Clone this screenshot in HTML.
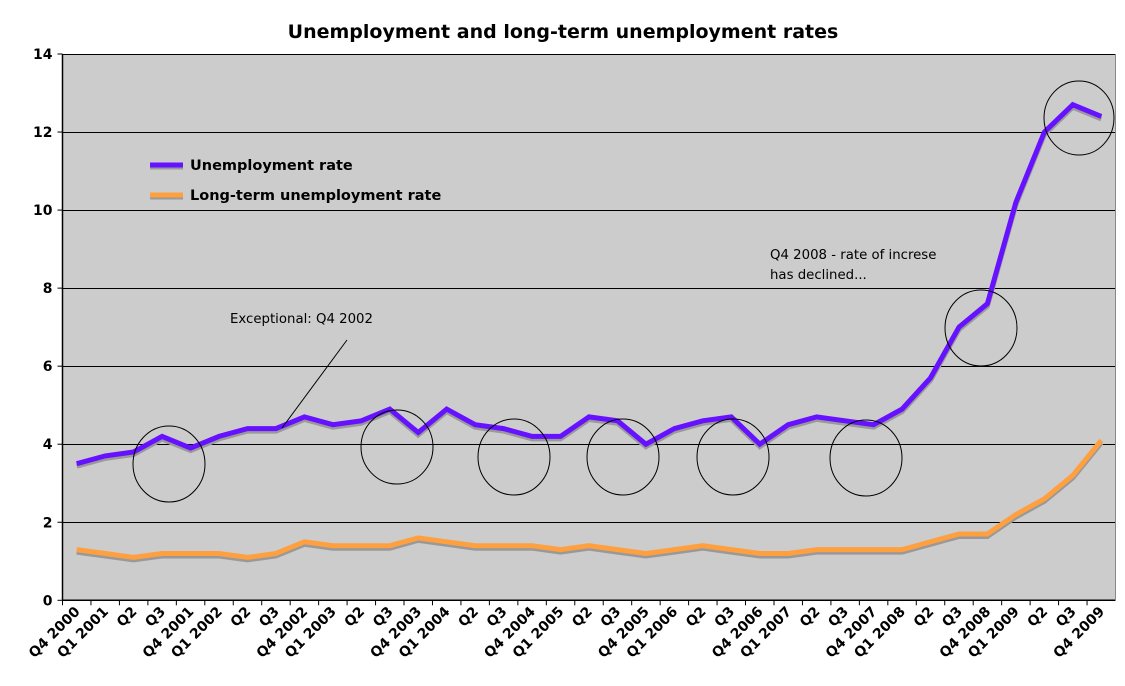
<!DOCTYPE html>
<html><head><meta charset="utf-8"><style>
body{margin:0;background:#fff;}
svg{display:block;font-family:"DejaVu Sans",Verdana,sans-serif;}
</style></head><body>
<svg id="chart" width="1125" height="686">
<text x="563" y="38" text-anchor="middle" font-size="19" font-weight="bold">Unemployment and long-term unemployment rates</text>
<rect x="62.5" y="54" width="1053" height="546.3" fill="#cccccc"/>
<g id="grid"></g>
<g id="xaxis"></g>
<g id="yaxis"></g>
<g id="series"></g>
<g fill="none" stroke="#000" stroke-width="1">
<ellipse cx="169" cy="464" rx="36" ry="38"/>
<ellipse cx="397" cy="447" rx="36" ry="37"/>
<ellipse cx="514" cy="457" rx="36" ry="38"/>
<ellipse cx="623" cy="457" rx="36" ry="38"/>
<ellipse cx="733" cy="457" rx="36" ry="38"/>
<ellipse cx="866" cy="458" rx="36" ry="38"/>
<ellipse cx="981" cy="328" rx="36" ry="38"/>
<ellipse cx="1079" cy="118" rx="35" ry="37"/>
<line x1="347" y1="340" x2="282" y2="428"/>
</g>
<text x="230" y="323" font-size="13.3">Exceptional: Q4 2002</text>
<text x="770" y="259" font-size="13.3">Q4 2008 - rate of increse</text>
<text x="770" y="279" font-size="13.3">has declined...</text>
<g>
<line x1="150" y1="167" x2="183" y2="167" stroke="#999" stroke-width="5"/>
<line x1="150" y1="165" x2="183" y2="165" stroke="#6611ff" stroke-width="5"/>
<text x="190" y="170" font-size="14.5" font-weight="bold">Unemployment rate</text>
<line x1="150" y1="197" x2="183" y2="197" stroke="#999" stroke-width="5"/>
<line x1="150" y1="195" x2="183" y2="195" stroke="#ffa040" stroke-width="5"/>
<text x="190" y="200" font-size="14.5" font-weight="bold">Long-term unemployment rate</text>
</g>
</svg>
<script>
const categories=["Q4 2000","Q1 2001","Q2","Q3","Q4 2001","Q1 2002","Q2","Q3","Q4 2002","Q1 2003","Q2","Q3","Q4 2003","Q1 2004","Q2","Q3","Q4 2004","Q1 2005","Q2","Q3","Q4 2005","Q1 2006","Q2","Q3","Q4 2006","Q1 2007","Q2","Q3","Q4 2007","Q1 2008","Q2","Q3","Q4 2008","Q1 2009","Q2","Q3","Q4 2009"];
const unemployment=[3.5,3.7,3.8,4.2,3.9,4.2,4.4,4.4,4.7,4.5,4.6,4.9,4.3,4.9,4.5,4.4,4.2,4.2,4.7,4.6,4.0,4.4,4.6,4.7,4.0,4.5,4.7,4.6,4.5,4.9,5.7,7.0,7.6,10.2,12.0,12.7,12.4];
const longTerm=[1.3,1.2,1.1,1.2,1.2,1.2,1.1,1.2,1.5,1.4,1.4,1.4,1.6,1.5,1.4,1.4,1.4,1.3,1.4,1.3,1.2,1.3,1.4,1.3,1.2,1.2,1.3,1.3,1.3,1.3,1.5,1.7,1.7,2.2,2.6,3.2,4.1];
const yTicks=[0,2,4,6,8,10,12,14];
const NS='http://www.w3.org/2000/svg';
const L=62.5,R=1115.5,T=54,B=600.3,yMax=14;
const step=(R-L)/categories.length;
const xs=i=>L+step*(i+0.5);
const ys=v=>B-(B-T)*v/yMax;
function mk(tag,attrs,parent){const e=document.createElementNS(NS,tag);for(const k in attrs)e.setAttribute(k,attrs[k]);parent.appendChild(e);return e;}
const grid=document.getElementById('grid'),xa=document.getElementById('xaxis'),ya=document.getElementById('yaxis'),ser=document.getElementById('series');
yTicks.forEach(v=>{
  if(v>0){const g=mk('line',{x1:L,x2:R,y1:Math.round(ys(v))+0.5,y2:Math.round(ys(v))+0.5,stroke:'#000','stroke-width':1},grid);
  
  }
  mk('line',{x1:L-5,x2:L,y1:ys(v),y2:ys(v),stroke:'#000'},ya);
  const t=mk('text',{x:L-10,y:ys(v)+5,'text-anchor':'end','font-size':14,'font-weight':'bold'},ya);
  t.textContent=v;
  
  
});
mk('line',{x1:L,x2:L,y1:T,y2:B,stroke:'#000','stroke-width':1.5},ya);
mk('line',{x1:L,x2:R,y1:B,y2:B,stroke:'#000','stroke-width':1.5},xa);
mk('line',{x1:R,x2:R,y1:T,y2:B,stroke:'#888','stroke-width':1},xa);
categories.forEach((c,i)=>{
  const tx=L+step*i;
  mk('line',{x1:tx,x2:tx,y1:B,y2:B+5,stroke:'#000'},xa);
  const cx=xs(i);
  const t=mk('text',{x:cx+4,y:B+12,'text-anchor':'end','font-size':14,'font-weight':'bold',transform:`rotate(-45 ${cx+4} ${B+12})`},xa);
  t.textContent=c;
  
  
});
function drawSeries(vals,color,name){
  const pts=vals.map((v,i)=>xs(i).toFixed(1)+','+ys(v).toFixed(1)).join(' ');
  const sh=mk('polyline',{points:pts,fill:'none',stroke:'#999','stroke-width':5,transform:'translate(0,2.5)','stroke-linejoin':'miter'},ser);
  
  
  const p=mk('polyline',{points:pts,fill:'none',stroke:color,'stroke-width':5,'stroke-linejoin':'miter'},ser);
  
  
}
drawSeries(longTerm,'#ffa040','long-term-unemployment');
drawSeries(unemployment,'#6611ff','unemployment');
</script>
</body></html>
